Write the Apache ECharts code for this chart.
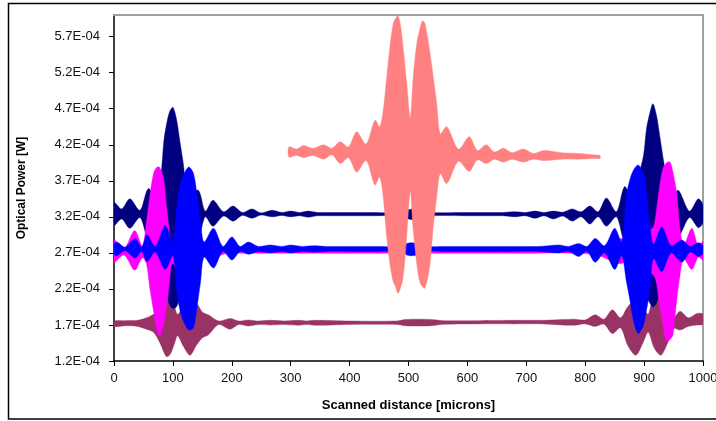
<!DOCTYPE html>
<html>
<head>
<meta charset="utf-8">
<script src="https://cdn.jsdelivr.net/npm/echarts@6/dist/echarts.min.js"></script>
<style>
  html, body { margin: 0; padding: 0; background: #fff; }
  #chart { width: 716px; height: 421px; }
</style>
</head>
<body>
<div id="chart"></div>
<script>
  // scanned distance in microns, optical power in units of 1E-04 W
  // each trace is drawn as the envelope (upper / lower) of its fringes
  const yTicks = [1.2, 1.7, 2.2, 2.7, 3.2, 3.7, 4.2, 4.7, 5.2, 5.7]

  const maroonX  = [0, 20, 40, 55, 67, 78, 89, 96, 103, 108, 118, 129, 140, 150, 160, 178, 197, 212, 228, 245, 265, 290, 313, 327, 341, 400, 480, 494, 516, 539, 560, 620, 680, 730, 760, 783, 800, 817, 832, 846, 860, 872, 886, 898, 907, 916, 922, 929, 940, 950, 961, 975, 990, 1000]
  const maroonHi = [1.755, 1.76, 1.765, 1.80, 1.85, 1.95, 2.08, 2.11, 1.95, 1.85, 1.95, 2.00, 2.00, 1.88, 1.84, 1.755, 1.79, 1.755, 1.77, 1.755, 1.765, 1.755, 1.765, 1.755, 1.765, 1.755, 1.755, 1.775, 1.78, 1.775, 1.76, 1.76, 1.765, 1.765, 1.775, 1.78, 1.77, 1.84, 1.78, 1.91, 1.80, 1.95, 2.05, 1.95, 1.85, 2.15, 2.20, 2.10, 1.95, 1.80, 1.89, 1.80, 1.86, 1.85]
  const maroonLo = [1.68, 1.69, 1.68, 1.64, 1.60, 1.45, 1.26, 1.30, 1.45, 1.55, 1.40, 1.28, 1.42, 1.52, 1.56, 1.705, 1.64, 1.705, 1.685, 1.705, 1.70, 1.705, 1.695, 1.705, 1.695, 1.708, 1.708, 1.69, 1.685, 1.69, 1.71, 1.715, 1.715, 1.715, 1.70, 1.695, 1.715, 1.68, 1.71, 1.58, 1.66, 1.42, 1.28, 1.45, 1.60, 1.40, 1.32, 1.28, 1.45, 1.65, 1.63, 1.68, 1.70, 1.71]

  const navyX  = [0, 13, 27, 44, 58, 71, 79, 85, 90, 95, 100, 106, 112, 118, 125, 143, 155, 168, 186, 202, 218, 234, 250, 268, 285, 300, 315, 330, 345, 360, 400, 440, 480, 500, 508, 516, 540, 600, 640, 660, 681, 698, 715, 730, 746, 762, 778, 793, 808, 822, 836, 853, 867, 880, 890, 899, 904, 910, 915, 921, 927, 933, 940, 948, 958, 977, 992, 1000]
  const navyHi = [3.40, 3.31, 3.45, 3.29, 3.59, 3.50, 3.73, 4.28, 4.52, 4.67, 4.72, 4.56, 4.24, 3.92, 3.48, 3.57, 3.28, 3.43, 3.27, 3.35, 3.26, 3.31, 3.255, 3.29, 3.26, 3.28, 3.26, 3.28, 3.26, 3.26, 3.26, 3.26, 3.26, 3.30, 3.31, 3.29, 3.26, 3.26, 3.26, 3.26, 3.27, 3.26, 3.28, 3.26, 3.28, 3.265, 3.31, 3.27, 3.35, 3.27, 3.46, 3.27, 3.62, 3.45, 3.75, 4.05, 4.42, 4.65, 4.77, 4.61, 4.30, 3.98, 3.65, 3.45, 3.57, 3.28, 3.45, 3.36]
  const navyLo = [3.08, 3.17, 3.04, 3.19, 2.90, 3.00, 2.70, 2.35, 2.10, 1.97, 1.93, 1.95, 2.10, 2.50, 3.00, 2.92, 3.20, 3.07, 3.21, 3.14, 3.22, 3.18, 3.225, 3.20, 3.22, 3.20, 3.215, 3.195, 3.215, 3.215, 3.215, 3.215, 3.215, 3.17, 3.16, 3.18, 3.215, 3.215, 3.215, 3.215, 3.20, 3.215, 3.18, 3.215, 3.17, 3.21, 3.14, 3.20, 3.10, 3.20, 3.07, 3.20, 2.86, 3.00, 2.70, 2.30, 2.10, 2.00, 1.95, 2.00, 2.20, 2.50, 2.85, 3.05, 2.92, 3.19, 3.05, 3.12]

  const magentaX  = [0, 17, 35, 48, 55, 61, 67, 72, 77, 84, 89, 92, 95, 99, 112, 125, 140, 155, 168, 185, 200, 240, 300, 400, 500, 600, 700, 780, 820, 860, 880, 900, 915, 921, 926, 932, 938, 944, 949, 955, 961, 967, 981, 992, 1000]
  const magentaHi = [2.88, 2.76, 3.01, 2.80, 3.13, 3.50, 3.80, 3.88, 3.89, 3.74, 3.36, 3.15, 2.95, 2.80, 3.00, 2.78, 2.92, 2.76, 2.82, 2.75, 2.74, 2.74, 2.735, 2.735, 2.735, 2.735, 2.735, 2.735, 2.75, 2.90, 2.80, 3.00, 3.05, 3.30, 3.60, 3.87, 3.95, 3.96, 3.82, 3.55, 3.04, 2.80, 3.04, 2.80, 2.86]
  const magentaLo = [2.57, 2.67, 2.46, 2.63, 2.55, 2.20, 1.90, 1.66, 1.54, 1.70, 1.95, 2.12, 2.35, 2.55, 2.45, 2.66, 2.52, 2.68, 2.62, 2.68, 2.695, 2.695, 2.695, 2.695, 2.695, 2.695, 2.695, 2.695, 2.67, 2.55, 2.66, 2.45, 2.40, 2.28, 1.98, 1.70, 1.47, 1.50, 1.56, 2.02, 2.39, 2.62, 2.47, 2.64, 2.60]

  const blueX  = [0, 5, 19, 36, 47, 56, 70, 87, 100, 106, 112, 118, 127, 135, 141, 147, 153, 169, 185, 200, 214, 228, 245, 265, 285, 300, 320, 340, 360, 400, 450, 490, 497, 505, 514, 520, 560, 620, 680, 720, 755, 772, 789, 803, 817, 833, 850, 862, 870, 876, 882, 890, 899, 904, 910, 916, 930, 946, 964, 978, 992, 1000]
  const blueHi = [2.82, 2.85, 2.78, 2.90, 2.78, 2.95, 2.79, 3.08, 2.85, 3.30, 3.64, 3.78, 3.89, 3.80, 3.50, 3.13, 2.85, 3.04, 2.79, 2.92, 2.79, 2.85, 2.79, 2.81, 2.79, 2.81, 2.79, 2.80, 2.79, 2.79, 2.79, 2.79, 2.83, 2.84, 2.83, 2.79, 2.79, 2.79, 2.79, 2.79, 2.81, 2.79, 2.83, 2.79, 2.90, 2.80, 3.04, 2.85, 3.50, 3.72, 3.85, 3.92, 3.80, 3.53, 3.08, 2.82, 3.06, 2.80, 2.88, 2.79, 2.84, 2.80]
  const blueLo = [2.68, 2.66, 2.73, 2.63, 2.72, 2.58, 2.71, 2.47, 2.66, 2.20, 1.90, 1.75, 1.63, 1.66, 1.95, 2.30, 2.64, 2.49, 2.72, 2.60, 2.72, 2.68, 2.72, 2.70, 2.72, 2.70, 2.72, 2.71, 2.72, 2.72, 2.72, 2.72, 2.67, 2.66, 2.67, 2.72, 2.72, 2.72, 2.72, 2.72, 2.70, 2.72, 2.65, 2.72, 2.57, 2.70, 2.47, 2.66, 2.30, 2.04, 1.76, 1.58, 1.70, 1.90, 2.20, 2.62, 2.44, 2.70, 2.57, 2.71, 2.65, 2.69]

  const pinkX  = [297, 310, 322, 338, 356, 370, 384, 398, 412, 428, 443, 451, 457, 463, 469, 474, 478, 482, 486, 491, 497, 503, 508, 514, 519, 524, 528, 536, 542, 548, 554, 565, 585, 603, 617, 632, 646, 661, 676, 695, 712, 730, 760, 790, 815, 825]
  const pinkHi = [4.17, 4.14, 4.19, 4.15, 4.20, 4.15, 4.24, 4.17, 4.38, 4.21, 4.54, 4.45, 4.67, 5.14, 5.60, 5.88, 5.95, 5.99, 5.88, 5.55, 5.05, 4.58, 5.14, 5.60, 5.80, 5.92, 5.88, 5.50, 5.14, 4.77, 4.35, 4.45, 4.14, 4.31, 4.12, 4.20, 4.10, 4.15, 4.09, 4.14, 4.08, 4.12, 4.09, 4.08, 4.06, 4.05]
  const pinkLo = [4.03, 4.05, 4.02, 4.05, 4.00, 4.06, 3.94, 4.02, 3.82, 3.98, 3.64, 3.75, 3.48, 2.92, 2.51, 2.30, 2.23, 2.14, 2.20, 2.37, 2.92, 3.55, 3.02, 2.55, 2.30, 2.23, 2.21, 2.51, 3.06, 3.48, 3.80, 3.66, 3.97, 3.83, 3.99, 3.94, 4.00, 3.96, 4.00, 3.96, 4.00, 3.98, 4.00, 4.00, 4.01, 4.01]

  // one filled polygon per trace, upper envelope forward then lower envelope back
  function band(name, color, xs, hi, lo) {
    return {
      name: name,
      type: 'custom',
      coordinateSystem: 'cartesian2d',
      clip: true,
      data: xs.map((x, i) => [x, hi[i], lo[i]]),
      encode: { x: 0, y: [1, 2] },
      renderItem: function (params, api) {
        if (params.dataIndex !== 0) return null
        const top = xs.map((x, i) => api.coord([x, hi[i]]))
        const bottom = xs.map((x, i) => api.coord([x, lo[i]])).reverse()
        return {
          type: 'polygon',
          shape: { points: top.concat(bottom), smooth: 0.3 },
          style: { fill: color, stroke: color, lineWidth: 0.4 }
        }
      }
    }
  }

  const labelFont = 'Liberation Sans, Arial, sans-serif'

  const chart = echarts.init(document.getElementById('chart'))
  chart.setOption({
    animation: false,
    backgroundColor: '#fff',
    grid: { left: 114, right: 13, top: 15, bottom: 60, containLabel: false, outerBoundsMode: 'none' },
    graphic: [{
      type: 'rect',
      silent: true,
      z: -10,
      shape: { x: 8.5, y: 3.5, width: 720, height: 415.5 },
      style: { fill: null, stroke: '#000', lineWidth: 1.5 }
    }],
    xAxis: [
      {
        type: 'value',
        min: 0,
        max: 1000,
        interval: 100,
        axisLine: { onZero: false, lineStyle: { color: '#000', width: 1.5 } },
        axisTick: { length: 5, lineStyle: { color: '#000' } },
        axisLabel: { color: '#111', fontSize: 13, fontFamily: labelFont, margin: 11, formatter: v => String(v) },
        splitLine: { show: false },
        name: 'Scanned distance [microns]',
        nameLocation: 'middle',
        nameGap: 38,
        nameTextStyle: { color: '#000', fontSize: 13, fontWeight: 'bold', fontFamily: labelFont }
      },
      {
        type: 'value',
        position: 'top',
        min: 0,
        max: 1000,
        axisLine: { onZero: false, lineStyle: { color: '#a0a0a0', width: 2 } },
        axisTick: { show: false },
        axisLabel: { show: false },
        splitLine: { show: false }
      }
    ],
    yAxis: [
      {
        type: 'value',
        min: 1.2,
        max: 6.0,
        axisLine: { show: true, onZero: false, lineStyle: { color: '#000', width: 1.5 } },
        axisTick: { show: true, length: 5, customValues: yTicks, lineStyle: { color: '#000' } },
        axisLabel: {
          customValues: yTicks,
          color: '#111',
          fontSize: 13,
          fontFamily: labelFont,
          margin: 14,
          formatter: v => v.toFixed(1) + 'E-04'
        },
        splitLine: { show: false },
        name: 'Optical Power [W]',
        nameLocation: 'middle',
        nameGap: 86,
        nameTextStyle: { color: '#000', fontSize: 12, fontWeight: 'bold', fontFamily: labelFont }
      },
      {
        type: 'value',
        position: 'right',
        min: 1.2,
        max: 6.0,
        axisLine: { show: true, onZero: false, lineStyle: { color: '#a0a0a0', width: 2 } },
        axisTick: { show: false },
        axisLabel: { show: false },
        splitLine: { show: false }
      }
    ],
    series: [
      band('maroon', '#993366', maroonX, maroonHi, maroonLo),
      band('navy', '#000080', navyX, navyHi, navyLo),
      band('magenta', '#FF00FF', magentaX, magentaHi, magentaLo),
      band('blue', '#0000FF', blueX, blueHi, blueLo),
      band('pink', '#FF8080', pinkX, pinkHi, pinkLo)
    ]
  })
</script>
</body>
</html>
